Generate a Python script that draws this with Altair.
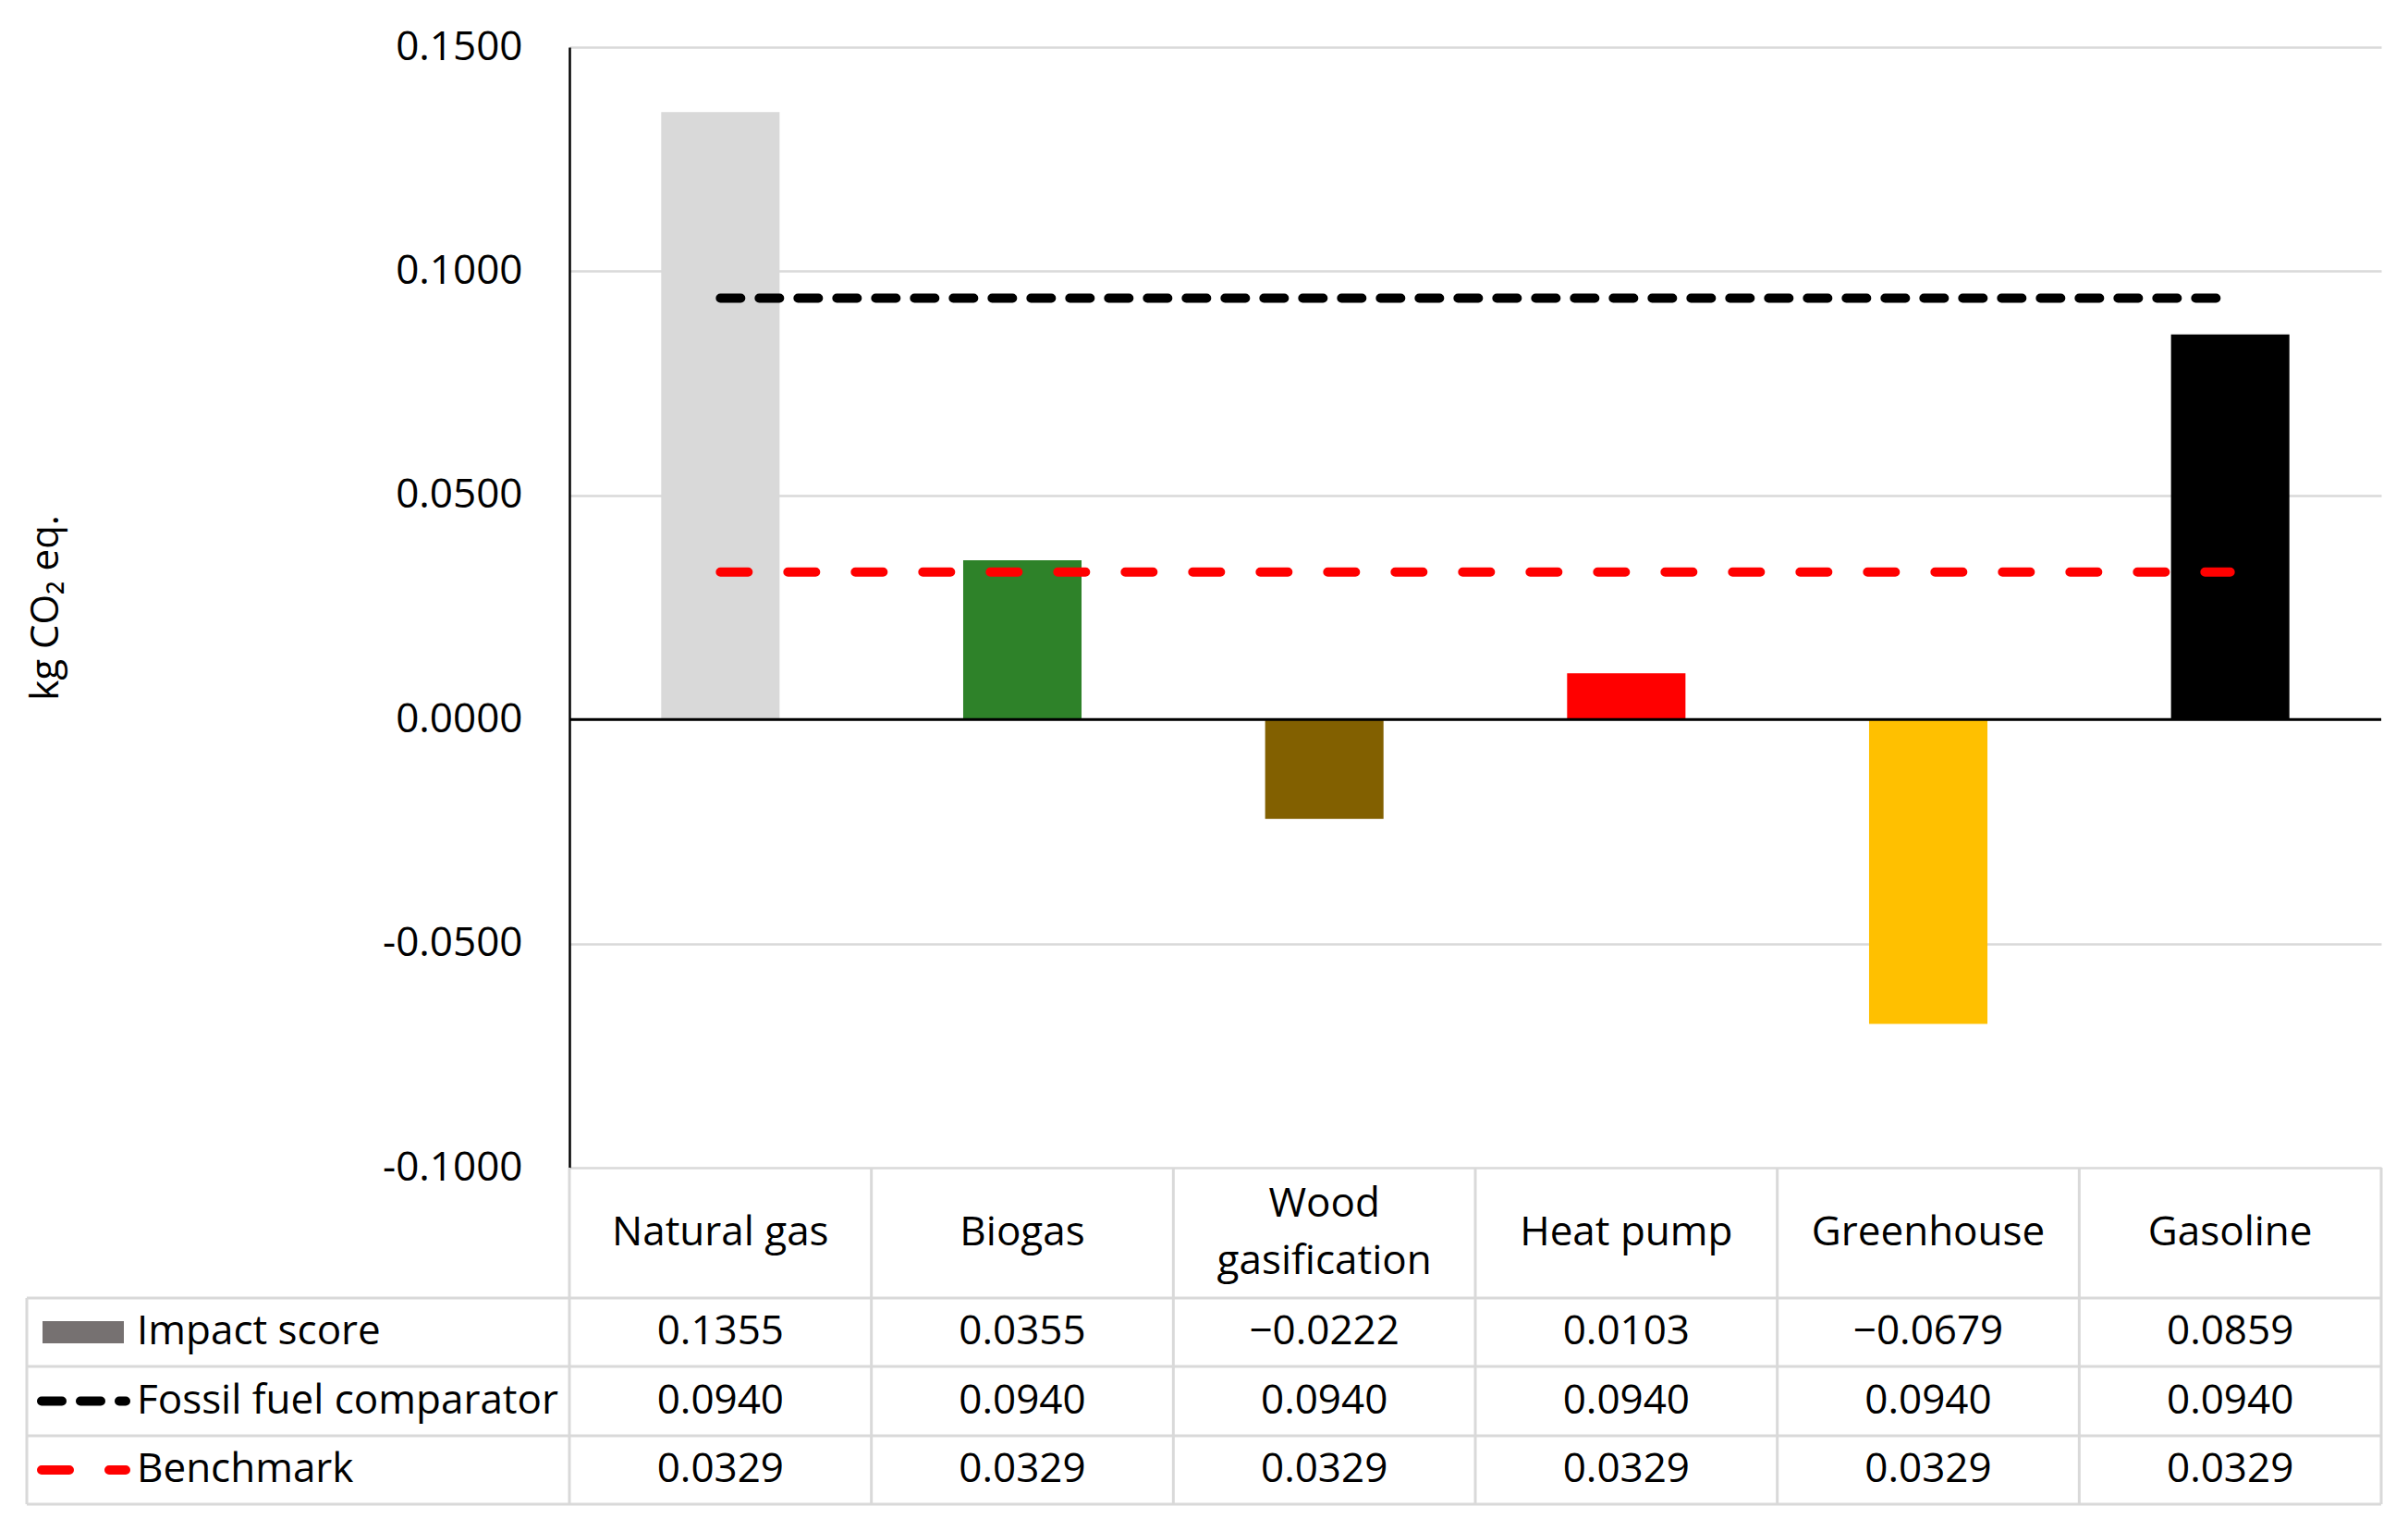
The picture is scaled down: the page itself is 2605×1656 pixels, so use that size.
import altair as alt
import pandas as pd

# ---------------- data ----------------
CATEGORIES = ["Natural gas", "Biogas", "Wood gasification", "Heat pump", "Greenhouse", "Gasoline"]
HEADER_LABELS = ["Natural gas", "Biogas", "Wood\ngasification", "Heat pump", "Greenhouse", "Gasoline"]
IMPACT = [0.1355, 0.0355, -0.0222, 0.0103, -0.0679, 0.0859]
FOSSIL = [0.0940, 0.0940, 0.0940, 0.0940, 0.0940, 0.0940]
BENCHMARK = [0.0329, 0.0329, 0.0329, 0.0329, 0.0329, 0.0329]
SERIES = ["Impact score", "Fossil fuel comparator", "Benchmark"]
Y_TICKS = [-0.1, -0.05, 0.0, 0.05, 0.1, 0.15]

# ---------------- styles / layout ----------------
BAR_COLORS = ["#d9d9d9", "#2e8229", "#826000", "#ff0000", "#ffc000", "#000000"]
GRID = "#d9d9d9"
FONT = "Open Sans"
FS = 44
W, H = 1960, 1212
STEP = W / len(CATEGORIES)
HEADER_Y = 1283
HEADER_LH = 62
ROW_Y = [1390, 1464.5, 1539]
HLINES_Y = [1353, 1427, 1502, 1576]
TABLE_LEFT = -587
TABLE_TOP = 1212
TABLE_BOTTOM = 1576
BLACK_DASH = [22, 20]
RED_DASH = [30, 43]

df = pd.DataFrame({
    "category": CATEGORIES,
    "header": HEADER_LABELS,
    "impact": IMPACT,
    "fossil": FOSSIL,
    "benchmark": BENCHMARK,
})

xscale = alt.Scale(domain=CATEGORIES, paddingInner=0.608, paddingOuter=0.304)
x_band = alt.X("category:N", sort=CATEGORIES, scale=xscale, axis=None)
x_center = alt.X("category:N", sort=CATEGORIES, scale=xscale, axis=None, bandPosition=0.5)
yscale = alt.Scale(domain=[-0.1, 0.15], nice=False, zero=False)

yaxis = alt.Axis(
    values=Y_TICKS,
    labelExpr="replace(format(datum.value, '.4f'), '\u2212', '-')",
    labelFont=FONT, labelFontSize=44, labelColor="black", labelPadding=51,
    ticks=False, domainColor="black", domainWidth=2.5,
    grid=True, gridColor=GRID, gridWidth=2.5,
    title="kg CO\u2082 eq.", titleFont=FONT, titleFontSize=42, titleFontWeight="normal",
    titleColor="black", titleX=-567, titleY=606, titleAngle=270,
    titleAlign="center", titleBaseline="middle",
)

bars = alt.Chart(df).mark_bar().encode(
    x=x_band,
    y=alt.Y("impact:Q", scale=yscale, axis=yaxis),
    color=alt.Color("category:N", scale=alt.Scale(domain=CATEGORIES, range=BAR_COLORS), legend=None),
)

zero = alt.Chart(df.head(1)).mark_rule(color="black", strokeWidth=3).encode(y=alt.datum(0))

fossil_line = alt.Chart(df).mark_line(
    color="black", strokeWidth=10, strokeDash=BLACK_DASH, strokeCap="round"
).encode(x=x_center, y=alt.Y("fossil:Q", scale=yscale))

bench_line = alt.Chart(df).mark_line(
    color="#ff0000", strokeWidth=10, strokeDash=RED_DASH, strokeCap="round"
).encode(x=x_center, y=alt.Y("benchmark:Q", scale=yscale))

layers = [bars, zero, fossil_line, bench_line]

# ---------------- data table ----------------
one = alt.Data(values=[{"k": 0}])

# vertical lines
layers.append(alt.Chart(df).mark_rule(color=GRID, strokeWidth=3, xOffset=-STEP / 2).encode(
    x=x_center, y=alt.value(TABLE_TOP), y2=alt.value(TABLE_BOTTOM)))
layers.append(alt.Chart(df.tail(1)).mark_rule(color=GRID, strokeWidth=3, xOffset=STEP / 2).encode(
    x=x_center, y=alt.value(TABLE_TOP), y2=alt.value(TABLE_BOTTOM)))
layers.append(alt.Chart(one).mark_rule(color=GRID, strokeWidth=3).encode(
    x=alt.value(TABLE_LEFT), y=alt.value(HLINES_Y[0]), y2=alt.value(TABLE_BOTTOM)))
# horizontal lines
for yv in HLINES_Y:
    layers.append(alt.Chart(one).mark_rule(color=GRID, strokeWidth=3).encode(
        x=alt.value(TABLE_LEFT), x2=alt.value(W), y=alt.value(yv)))

# header row: single-line labels
layers.append(alt.Chart(df).transform_filter(
    "indexof(datum.header, '\\n') < 0"
).mark_text(
    font=FONT, fontSize=FS, color="black", baseline="middle"
).encode(x=x_center, y=alt.value(HEADER_Y), text="header:N"))
# header row: two-line labels (block centred on the row)
layers.append(alt.Chart(df).transform_filter(
    "indexof(datum.header, '\\n') >= 0"
).mark_text(
    font=FONT, fontSize=FS, color="black", baseline="middle", lineBreak="\n",
    lineHeight=HEADER_LH, dy=-HEADER_LH / 2
).encode(x=x_center, y=alt.value(HEADER_Y), text="header:N"))

# value rows
for field, yv in zip(["impact", "fossil", "benchmark"], ROW_Y):
    layers.append(alt.Chart(df).mark_text(
        font=FONT, fontSize=FS, color="black", baseline="middle"
    ).encode(x=x_center, y=alt.value(yv), text=alt.Text(f"{field}:Q", format=".4f")))

# legend column labels
for name, yv in zip(SERIES, ROW_Y):
    layers.append(alt.Chart(alt.Data(values=[{"s": name}])).mark_text(
        font=FONT, fontSize=FS, color="black", baseline="middle", align="left"
    ).encode(x=alt.value(-468), y=alt.value(yv), text="s:N"))

# legend symbols
layers.append(alt.Chart(one).mark_rect(color="#767171").encode(
    x=alt.value(-570), x2=alt.value(-482), y=alt.value(ROW_Y[0] - 12), y2=alt.value(ROW_Y[0] + 12)))
layers.append(alt.Chart(one).mark_rule(
    color="black", strokeWidth=10, strokeDash=BLACK_DASH, strokeCap="round"
).encode(x=alt.value(-571), x2=alt.value(-480), y=alt.value(ROW_Y[1])))
layers.append(alt.Chart(one).mark_rule(
    color="#ff0000", strokeWidth=10, strokeDash=RED_DASH, strokeCap="round"
).encode(x=alt.value(-571), x2=alt.value(-480), y=alt.value(ROW_Y[2])))

chart = alt.layer(*layers).properties(
    width=W, height=H,
    autosize=alt.AutoSizeParams(type="none"),
    padding={"left": 608, "top": 43, "right": 21, "bottom": 385},
).configure_view(strokeWidth=0)

chart.save("out.html", embed_options={"renderer": "svg", "actions": False})
